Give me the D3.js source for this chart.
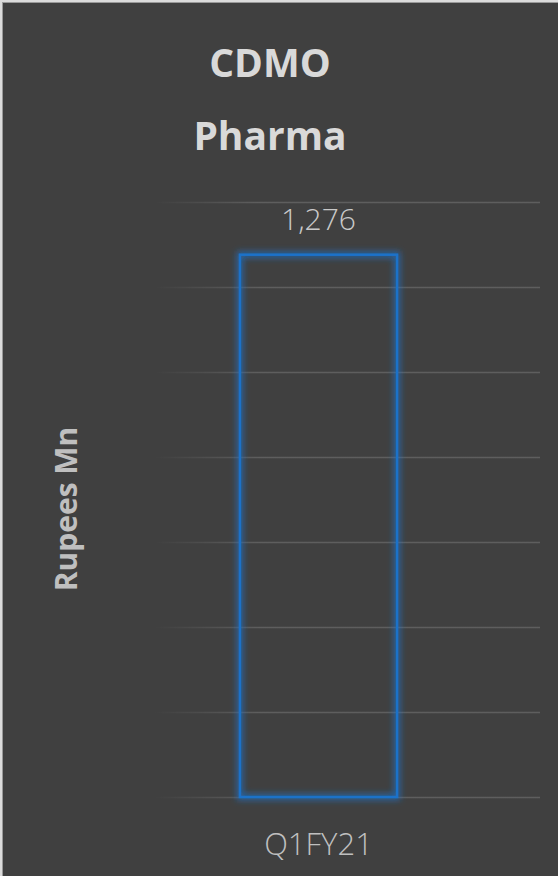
<!DOCTYPE html>
<html>
<head>
<meta charset="utf-8">
<script src="https://cdn.jsdelivr.net/npm/d3@7"></script>
<style>
	html, body { margin: 0; padding: 0; background: #e6e6e6; }
	svg { display: block; }
</style>
</head>
<body>
<div id="container"></div>
<script>
	'use strict';
	// chart data
	let categories = ['Q1FY21'];
	let values = [1276];
	let yTicks = [0, 200, 400, 600, 800, 1000, 1200, 1400];
	let titleLines = ['CDMO', 'Pharma'];
	let yLabel = 'Rupees Mn';

	let options = {
		width: 558,
		height: 876,
		bgcolor: '#404040',
		left: 97,
		right: 540,
		top: 202,
		bottom: 797,
	};

	let svg = d3.select('#container')
		.append('svg')
		.attr('width', options.width)
		.attr('height', options.height);

	// frame
	svg.append('rect')
		.attr('x', 0).attr('y', 0)
		.attr('width', options.width).attr('height', options.height)
		.attr('fill', '#dcdcdc');
	svg.append('rect')
		.attr('x', 2).attr('y', 2)
		.attr('width', options.width - 2).attr('height', options.height - 2)
		.attr('fill', '#9a9a9a');
	svg.append('rect')
		.attr('x', 3).attr('y', 3)
		.attr('width', options.width - 3).attr('height', options.height - 3)
		.attr('fill', options.bgcolor);

	let defs = svg.append('defs');
	// gradient in the tick group's local coordinates (group starts at options.left)
	let grad = defs.append('linearGradient')
		.attr('id', 'gridfade')
		.attr('gradientUnits', 'userSpaceOnUse')
		.attr('x1', 155 - options.left).attr('x2', 260 - options.left)
		.attr('y1', 0).attr('y2', 0);
	grad.append('stop').attr('offset', 0).attr('stop-color', '#5e5e5e').attr('stop-opacity', 0);
	grad.append('stop').attr('offset', 1).attr('stop-color', '#5e5e5e').attr('stop-opacity', 1);

	let glow = defs.append('filter')
		.attr('id', 'glow')
		.attr('x', '-20%').attr('y', '-10%')
		.attr('width', '140%').attr('height', '120%');
	glow.append('feMorphology')
		.attr('in', 'SourceGraphic')
		.attr('operator', 'dilate')
		.attr('radius', 2)
		.attr('result', 'thick');
	glow.append('feGaussianBlur')
		.attr('in', 'thick')
		.attr('stdDeviation', 3)
		.attr('result', 'blur');
	glow.append('feComponentTransfer')
		.attr('in', 'blur')
		.attr('result', 'soft')
		.append('feFuncA')
		.attr('type', 'linear')
		.attr('slope', 0.7);
	let merge = glow.append('feMerge');
	merge.append('feMergeNode').attr('in', 'soft');
	merge.append('feMergeNode').attr('in', 'SourceGraphic');

	let x = d3.scaleBand()
		.domain(categories)
		.range([options.left, options.right])
		.paddingInner(0)
		.paddingOuter(0.91);

	let y = d3.scaleLinear()
		.domain([0, d3.max(yTicks)])
		.range([options.bottom, options.top]);

	// gridlines
	let yAxis = d3.axisLeft(y)
		.tickValues(yTicks)
		.tickSize(-(options.right - options.left))
		.tickFormat('');
	let gy = svg.append('g')
		.attr('transform', 'translate(' + options.left + ',0)')
		.call(yAxis);
	gy.select('.domain').remove();
	gy.selectAll('.tick line')
		.attr('stroke', 'url(#gridfade)')
		.attr('stroke-width', 1.3);

	// bars
	svg.selectAll('rect.bar')
		.data(values)
		.enter()
		.append('rect')
		.attr('class', 'bar')
		.attr('x', (d, i) => x(categories[i]))
		.attr('y', (d) => y(d))
		.attr('width', x.bandwidth())
		.attr('height', (d) => y(0) - y(d))
		.attr('fill', 'none')
		.attr('stroke', '#1f72c9')
		.attr('stroke-width', 2.5)
		.attr('filter', 'url(#glow)');

	// value labels
	svg.selectAll('text.value')
		.data(values)
		.enter()
		.append('text')
		.attr('class', 'value')
		.attr('x', (d, i) => x(categories[i]) + x.bandwidth() / 2)
		.attr('y', (d) => y(d) - 25)
		.attr('text-anchor', 'middle')
		.attr('font-family', 'Open Sans, sans-serif')
		.attr('font-weight', 300)
		.attr('font-size', 30)
		.attr('fill', '#c9c9c9')
		.text((d) => d3.format(',')(d));

	// category axis
	let xAxis = d3.axisBottom(x).tickSize(0).tickPadding(36);
	let gx = svg.append('g')
		.attr('transform', 'translate(0,' + options.bottom + ')')
		.call(xAxis);
	gx.select('.domain').remove();
	gx.selectAll('text')
		.attr('font-family', 'Open Sans, sans-serif')
		.attr('font-weight', 300)
		.attr('font-size', 31)
		.attr('fill', '#bfbfbf');

	// title
	svg.selectAll('text.title')
		.data(titleLines)
		.enter()
		.append('text')
		.attr('class', 'title')
		.attr('x', 270)
		.attr('y', (d, i) => 77 + i * 73)
		.attr('text-anchor', 'middle')
		.attr('font-family', 'Open Sans, sans-serif')
		.attr('font-weight', 700)
		.attr('font-size', 39)
		.attr('fill', '#d9d9d9')
		.text((d) => d);

	// y label
	svg.append('text')
		.attr('transform', 'translate(77,509) rotate(-90)')
		.attr('text-anchor', 'middle')
		.attr('font-family', 'Open Sans, sans-serif')
		.attr('font-weight', 700)
		.attr('font-size', 30)
		.attr('fill', '#bfbfbf')
		.text(yLabel);
</script>
</body>
</html>
